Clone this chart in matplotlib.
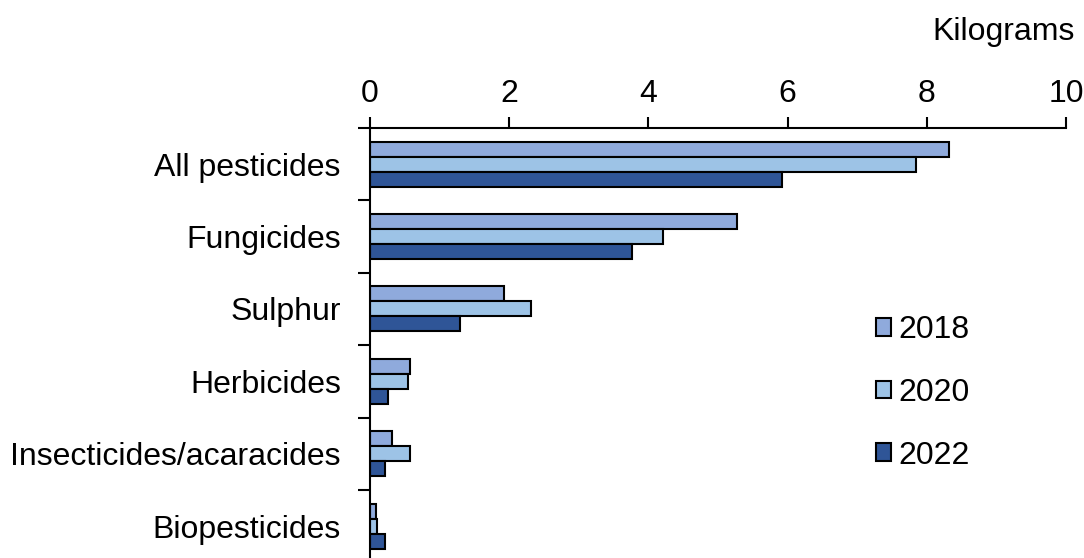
import matplotlib
matplotlib.use("Agg")
import matplotlib.pyplot as plt
import numpy as np
from matplotlib.ticker import FixedLocator

plt.rcParams["font.family"] = ["Liberation Sans", "DejaVu Sans"]

categories = ["All pesticides", "Fungicides", "Sulphur", "Herbicides",
              "Insecticides/acaracides", "Biopesticides"]
years = ["2018", "2020", "2022"]
values_2018 = [8.32, 5.28, 1.93, 0.57, 0.31, 0.08]
values_2020 = [7.84, 4.21, 2.32, 0.55, 0.57, 0.10]
values_2022 = [5.92, 3.77, 1.29, 0.26, 0.22, 0.22]
colors = ["#8FAADC", "#9DC3E6", "#2F5597"]

fig = plt.figure(figsize=(10.84, 5.58), dpi=100)
ax = fig.add_axes([370 / 1084, 0.0, (1066 - 370) / 1084, (558 - 128) / 558])

y = np.arange(len(categories))
h = 0.207
series = [values_2018, values_2020, values_2022]
for i, (vals, col, yr) in enumerate(zip(series, colors, years)):
    ax.barh(y + (i - 1) * h, vals, height=h, color=col, edgecolor="black",
            linewidth=1.5, label=yr)

ax.set_xlim(0, 10)
ax.set_ylim(5.44, -0.5)
ax.xaxis.tick_top()
ax.set_xticks(range(0, 11, 2))
ax.tick_params(axis="x", which="major", direction="out", length=8, width=1.5,
               labelsize=23, pad=6)

ax.set_yticks(y)
ax.set_yticklabels(categories)
ax.tick_params(axis="y", which="major", length=0, labelsize=23, pad=21)
ax.yaxis.set_minor_locator(FixedLocator(np.arange(-0.5, len(categories), 1.0)))
ax.tick_params(axis="y", which="minor", direction="out", length=9, width=1.5)

for s in ["right", "bottom"]:
    ax.spines[s].set_visible(False)
for s in ["top", "left"]:
    ax.spines[s].set_linewidth(1.5)

fig.text(1075 / 1084, 1 - 32 / 558, "Kilograms", ha="right", va="center",
         fontsize=23)

leg = ax.legend(loc="upper left", bbox_to_anchor=(0.708, 0.594), frameon=False,
                fontsize=23, handlelength=0.48, handleheight=0.48,
                handletextpad=0.25, labelspacing=1.02, borderaxespad=0)
for p in leg.get_patches():
    p.set_linewidth(1.5)

fig.savefig("out.png", dpi=100)
